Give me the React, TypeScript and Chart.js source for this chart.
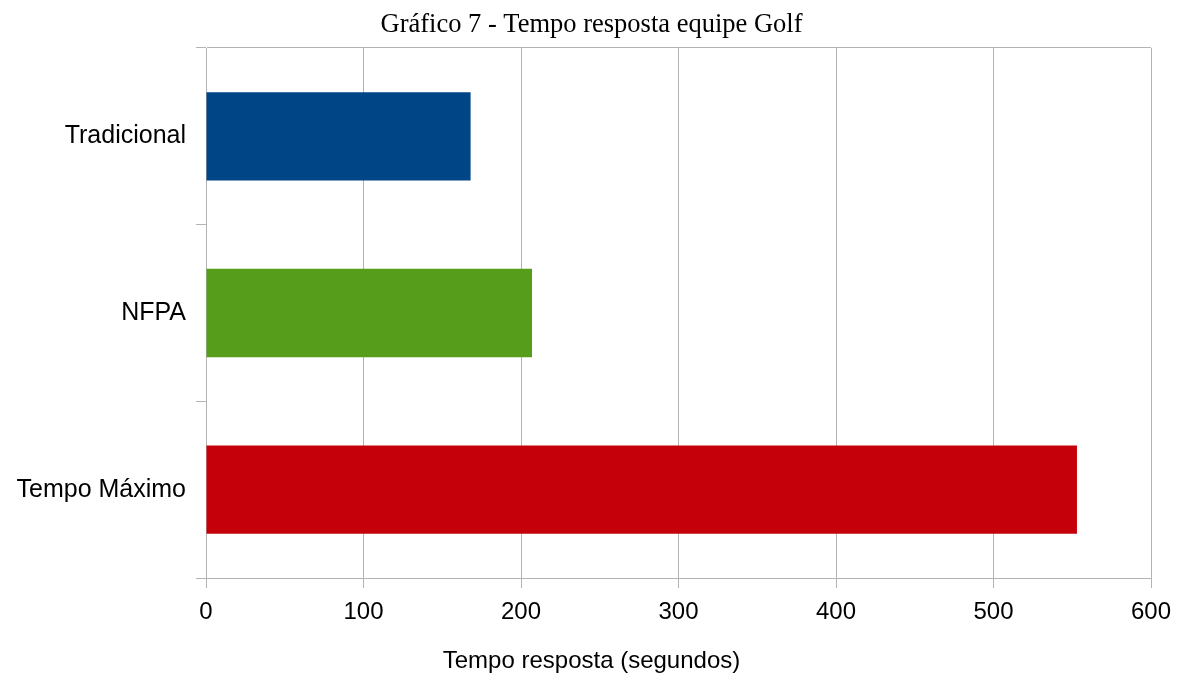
import React, { useEffect, useRef } from "react";
import { Chart, registerables } from "chart.js";

Chart.register(...registerables);

const categories = ["Tradicional", "NFPA", "Tempo Máximo"];
const responseSeconds = [168, 207, 553];
const barColors = ["#004586", "#579d1c", "#c5000b"];
const xTicks = [0, 100, 200, 300, 400, 500, 600];

const chartTitle = "Gráfico 7 - Tempo resposta equipe Golf";
const xAxisTitle = "Tempo resposta (segundos)";

const GRID = "#b3b3b3";

export default function App() {
  const canvasRef = useRef<HTMLCanvasElement | null>(null);

  useEffect(() => {
    const canvas = canvasRef.current;
    if (!canvas) return;
    const chart = new Chart(canvas, {
      type: "bar",
      data: {
        labels: categories,
        datasets: [
          {
            data: responseSeconds,
            backgroundColor: barColors,
            borderWidth: 0,
            barPercentage: 0.5,
            categoryPercentage: 1,
          },
        ],
      },
      options: {
        indexAxis: "y",
        responsive: false,
        animation: false,
        layout: { padding: 0 },
        plugins: {
          legend: { display: false },
          tooltip: { enabled: false },
          title: {
            display: true,
            text: chartTitle,
            color: "#000",
            font: { family: "Liberation Serif", size: 26.5, weight: "normal", lineHeight: 1.2 },
            padding: { top: 9, bottom: 7.2 },
          },
          // axis caption centred on the whole canvas, below the x axis
          subtitle: {
            display: true,
            position: "bottom",
            text: xAxisTitle,
            color: "#000",
            font: { family: "Liberation Sans", size: 24, weight: "normal", lineHeight: 1.2 },
            padding: { top: 0, bottom: 1 },
          },
        },
        scales: {
          x: {
            type: "linear",
            min: xTicks[0],
            max: xTicks[xTicks.length - 1],
            afterBuildTicks: (axis: any) => {
              axis.ticks = xTicks.map((v) => ({ value: v }));
            },
            afterFit: (axis: any) => {
              axis.height = 69.2;
              axis.paddingLeft = 0;
              axis.paddingRight = 32;
            },
            grid: {
              color: GRID,
              tickColor: GRID,
              lineWidth: 1,
              drawTicks: true,
              tickLength: 10,
            },
            border: { color: GRID, width: 1 },
            ticks: {
              color: "#000",
              padding: 10,
              font: { family: "Liberation Sans", size: 24 },
            },
          },
          y: {
            afterFit: (axis: any) => {
              axis.width = 206;
            },
            grid: {
              offset: true,
              color: (ctx: any) => (ctx.index === 0 ? GRID : "rgba(0,0,0,0)"),
              tickColor: GRID,
              drawTicks: true,
              tickLength: 10,
            },
            border: { color: GRID, width: 1 },
            ticks: {
              color: "#000",
              padding: 10,
              font: { family: "Liberation Sans", size: 25 },
            },
          },
        },
      },
    });
    return () => chart.destroy();
  }, []);

  return (
    <div style={{ position: "fixed", left: 0, top: 0, width: 1183, height: 677, background: "#fff" }}>
      <canvas ref={canvasRef} width={1183} height={677} />
    </div>
  );
}
